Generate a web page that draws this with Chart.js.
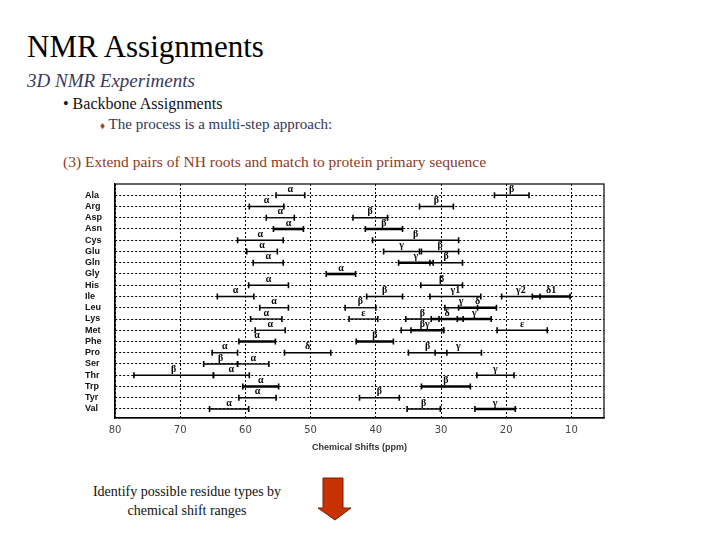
<!DOCTYPE html>
<html>
<head>
<meta charset="utf-8">
<script src="https://cdn.jsdelivr.net/npm/chart.js@4/dist/chart.umd.min.js"></script>
<style>
  body { margin: 0; background: #fff; }
  #page { position: relative; width: 720px; height: 540px; overflow: hidden;
          font-family: 'Liberation Serif', 'Times New Roman', 'DejaVu Serif', serif; }
  .t { position: absolute; white-space: nowrap; }
  #chartBox { position: absolute; left: 85px; top: 176px; width: 525px; height: 280px; }
</style>
</head>
<body>
<div id="page">
  <div class="t" style="left:27px; top:29px; font-size:31px; color:#000;">NMR Assignments</div>
  <div class="t" style="left:27px; top:70px; font-size:19px; font-style:italic; color:#3a3a5c;">3D NMR Experiments</div>
  <div class="t" style="left:63px; top:95px; font-size:16px; color:#111;">&bull; Backbone Assignments</div>
  <div class="t" style="left:100px; top:116px; font-size:15px; color:#333355;"><span style="color:#a0401c; font-size:10px;">&#9830;</span> The process is a multi-step approach:</div>
  <div class="t" style="left:63px; top:153px; font-size:15.5px; color:#8b3a1e;">(3) Extend pairs of NH roots and match to protein primary sequence</div>
  <div class="t" style="left:70px; top:482px; width:234px; text-align:center; font-size:14px; line-height:19px; color:#111; white-space:normal;">Identify possible residue types by chemical shift ranges</div>
  <svg style="position:absolute; left:0; top:0;" width="720" height="540">
    <polygon points="323,478 343,478 343,508 351,508 335,520 318,508 323,508" fill="#c83200" stroke="#7a2000" stroke-width="1"/>
  </svg>
  <div id="chartBox"><canvas id="c"></canvas></div>
</div>
<script>
// residues, top to bottom
const residues = ['Ala', 'Arg', 'Asp', 'Asn', 'Cys', 'Glu', 'Gln', 'Gly', 'His', 'Ile',
                  'Leu', 'Lys', 'Met', 'Phe', 'Pro', 'Ser', 'Thr', 'Trp', 'Tyr', 'Val'];

// C-alpha shift ranges (ppm), one per residue
const alphaHigh = [55.3, 59.4, 56.8, 55.7, 61.2, 59.8, 58.8, 47.6, 59.5, 64.3,
                   57.8, 59.2, 58.5, 61.0, 65.1, 61.2, 64.9, 60.4, 61.0, 65.5];
const alphaLow  = [50.9, 54.1, 52.5, 51.1, 54.2, 55.1, 54.2, 43.1, 53.4, 58.7,
                   53.4, 54.4, 53.9, 55.4, 61.2, 56.4, 59.4, 54.9, 55.3, 59.5];

// C-beta shift ranges (ppm), Gly has none
const betaHigh = [21.8, 33.3, 43.5, 41.6, 40.5, 33.0, 31.7, null, 33.1, 41.4,
                  44.7, 35.4, 36.1, 43.0, 35.0, 66.4, 77.1, 33.0, 42.5, 35.2];
const betaLow  = [16.5, 28.1, 38.2, 35.9, 27.3, 27.3, 26.7, null, 26.7, 35.9,
                  40.0, 30.3, 29.6, 37.3, 29.1, 61.2, 64.9, 25.5, 36.4, 30.1];

// side chain carbons
const sideResidue = ['Glu', 'Gln', 'Ile', 'Ile', 'Ile', 'Leu', 'Leu', 'Lys', 'Lys', 'Lys',
                     'Met', 'Met', 'Pro', 'Pro', 'Thr', 'Val'];
const sideAtom = ['γ', 'γ', 'γ1', 'γ2', 'δ1', 'γ', 'δ', 'ε', 'δ', 'γ',
                  'γ', 'ε', 'δ', 'γ', 'γ', 'γ'];
const sideHigh = [38.8, 36.5, 31.7, 20.7, 16.0, 29.4, 27.3, 44.1, 31.5, 27.5,
                  34.6, 21.4, 54.0, 30.9, 24.5, 24.8];
const sideLow  = [33.3, 31.2, 23.9, 14.8, 10.2, 24.4, 21.5, 39.7, 26.6, 22.3,
                  29.6, 13.7, 46.9, 23.8, 18.8, 18.6];

const xTicks = [80, 70, 60, 50, 40, 30, 20, 10];

// ranges drawn with a heavier line
const heavy = ['Asn α', 'Asn β', 'Gly α', 'Gln γ', 'Ile δ1', 'Leu δ', 'Lys δ', 'Lys γ',
               'Met γ', 'Phe α', 'Phe β', 'Trp α', 'Trp β', 'Val γ'];

function segment(res, atom, hi, lo) {
    const row = residues.indexOf(res);
    const thick = heavy.includes(res + ' ' + atom);
    return {
        label: res + ' ' + atom,
        atom,
        data: [{ x: hi, y: row }, { x: lo, y: row }],
        showLine: true,
        borderColor: '#000',
        borderWidth: thick ? 2.6 : 1.3,
        pointStyle: 'line',
        rotation: 90,
        pointRadius: 3,
        pointBorderWidth: 1.6,
        pointBorderColor: '#000',
        pointHoverRadius: 3,
    };
}

const datasets = [];
residues.forEach((r, i) => {
    datasets.push(segment(r, 'α', alphaHigh[i], alphaLow[i]));
    if (betaHigh[i] !== null) datasets.push(segment(r, 'β', betaHigh[i], betaLow[i]));
});
sideResidue.forEach((r, i) => datasets.push(segment(r, sideAtom[i], sideHigh[i], sideLow[i])));

// greek labels above each range + closed frame
const rangeLabels = {
    id: 'rangeLabels',
    afterDatasetsDraw(chart) {
        const ctx = chart.ctx;
        const area = chart.chartArea;
        ctx.save();
        ctx.font = "bold 10px 'Liberation Serif'";
        ctx.fillStyle = '#000';
        ctx.textAlign = 'center';
        ctx.textBaseline = 'bottom';
        chart.data.datasets.forEach((ds, i) => {
            const pts = chart.getDatasetMeta(i).data;
            const x = (pts[0].x + pts[1].x) / 2;
            ctx.fillText(ds.atom, x, pts[0].y - 1);
        });
        ctx.strokeStyle = '#000';
        ctx.lineWidth = 1.2;
        ctx.strokeRect(area.left, area.top, area.right - area.left, area.bottom - area.top);
        ctx.restore();
    },
};

new Chart(document.getElementById('c'), {
    type: 'scatter',
    data: { datasets },
    options: {
        responsive: true,
        maintainAspectRatio: false,
        animation: false,
        layout: { padding: { top: 8, right: 6, left: 0, bottom: 0 } },
        plugins: { legend: { display: false }, tooltip: { enabled: false } },
        scales: {
            x: {
                type: 'linear',
                reverse: true,
                min: 5,
                max: 80,
                afterBuildTicks: (s) => { s.ticks = xTicks.map((v) => ({ value: v })); },
                afterFit: (s) => { s.height = 38; },
                grid: { color: '#000', lineWidth: 1, drawTicks: false },
                border: { display: true, color: '#000', width: 1.2, dash: [2, 2] },
                ticks: { padding: 6, color: '#444', autoSkip: false, font: { family: 'DejaVu Sans', size: 10 } },
                title: {
                    display: true,
                    text: 'Chemical Shifts (ppm)',
                    color: '#333',
                    font: { family: 'Liberation Sans', size: 9, weight: 'bold' },
                    padding: { top: 0, bottom: 3 },
                },
            },
            y: {
                type: 'linear',
                reverse: true,
                min: -1,
                max: 19.8,
                afterBuildTicks: (s) => { s.ticks = residues.map((_, i) => ({ value: i })); },
                afterFit: (s) => { s.width = 30; },
                grid: { color: '#000', lineWidth: 1, drawTicks: false },
                border: { display: true, color: '#000', width: 1.2, dash: [2, 2] },
                ticks: {
                    crossAlign: 'far',
                    padding: 0,
                    autoSkip: false,
                    color: '#111',
                    font: { family: 'Liberation Sans', size: 9, weight: 'bold' },
                    callback: (v) => residues[v],
                },
            },
        },
    },
    plugins: [rangeLabels],
});
</script>
</body>
</html>
